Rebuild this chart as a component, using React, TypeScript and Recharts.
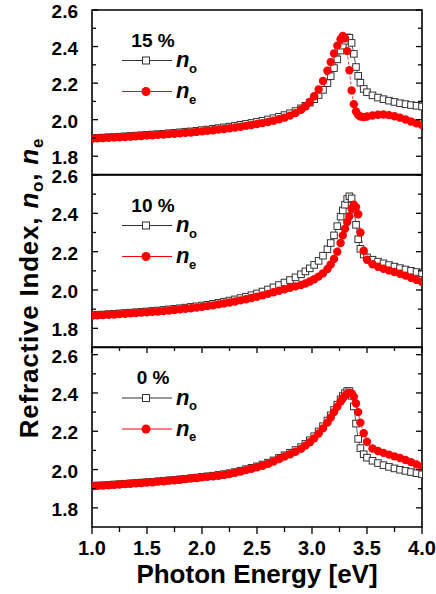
import { LineChart, Line, XAxis, YAxis, ReferenceArea } from "recharts";

// photon energy [eV], shared by all three samples
const energy = [
  1.0, 1.05, 1.1, 1.15, 1.2, 1.25, 1.3, 1.35, 1.4, 1.45, 1.5, 1.55, 1.6, 1.65, 1.7, 1.75, 1.8, 1.85, 1.9, 1.95,
  2.0, 2.05, 2.1, 2.15, 2.2, 2.25, 2.3, 2.35, 2.4, 2.45, 2.5, 2.55, 2.6, 2.65, 2.7, 2.75, 2.8, 2.85, 2.9,
  2.94, 2.98, 3.02, 3.06, 3.1, 3.14, 3.17, 3.2, 3.23, 3.26, 3.28, 3.3, 3.32, 3.34, 3.36, 3.38, 3.4, 3.42, 3.44,
  3.47, 3.5, 3.55, 3.6, 3.65, 3.7, 3.75, 3.8, 3.85, 3.9, 3.95, 4.0,
];

// 15 %
const no15 = [
  1.899, 1.901, 1.902, 1.904, 1.905, 1.907, 1.909, 1.911, 1.913, 1.915, 1.917, 1.919, 1.921, 1.923, 1.926, 1.928, 1.931, 1.934, 1.936, 1.939,
  1.943, 1.946, 1.95, 1.954, 1.958, 1.962, 1.967, 1.972, 1.977, 1.982, 1.988, 1.994, 2.001, 2.008, 2.016, 2.025, 2.035, 2.047, 2.062,
  2.076, 2.093, 2.112, 2.135, 2.163, 2.2, 2.238, 2.282, 2.33, 2.378, 2.405, 2.432, 2.45, 2.448, 2.42, 2.36, 2.288, 2.24, 2.202,
  2.168, 2.15, 2.133, 2.121, 2.112, 2.104, 2.097, 2.09, 2.085, 2.08, 2.076, 2.072,
];
const ne15 = [
  1.896, 1.898, 1.899, 1.901, 1.902, 1.904, 1.905, 1.907, 1.909, 1.911, 1.913, 1.915, 1.917, 1.919, 1.921, 1.923, 1.925, 1.928, 1.93, 1.933,
  1.936, 1.939, 1.942, 1.946, 1.949, 1.953, 1.957, 1.961, 1.966, 1.971, 1.976, 1.981, 1.987, 1.994, 2.002, 2.011, 2.022, 2.036, 2.054,
  2.072, 2.097, 2.128, 2.165, 2.212, 2.268, 2.315, 2.362, 2.405, 2.44, 2.458, 2.445, 2.375, 2.27, 2.16, 2.085, 2.045, 2.025, 2.017,
  2.014, 2.017, 2.023, 2.027, 2.028, 2.025, 2.019, 2.011, 2.001, 1.99, 1.98, 1.97,
];

// 10 %
const no10 = [
  1.869, 1.871, 1.872, 1.874, 1.876, 1.878, 1.88, 1.882, 1.884, 1.886, 1.888, 1.891, 1.893, 1.896, 1.899, 1.902, 1.905, 1.908, 1.912, 1.915,
  1.919, 1.923, 1.928, 1.933, 1.939, 1.945, 1.951, 1.958, 1.965, 1.973, 1.982, 1.992, 2.003, 2.014, 2.026, 2.039, 2.052, 2.066, 2.082,
  2.097, 2.113, 2.131, 2.152, 2.179, 2.213, 2.245, 2.285, 2.333, 2.383, 2.415, 2.445, 2.475, 2.489, 2.478, 2.42, 2.34, 2.265, 2.215,
  2.185, 2.17, 2.158, 2.148, 2.139, 2.13, 2.122, 2.114, 2.107, 2.1, 2.094, 2.088,
];
const ne10 = [
  1.866, 1.868, 1.869, 1.871, 1.872, 1.874, 1.876, 1.878, 1.88, 1.882, 1.884, 1.886, 1.888, 1.89, 1.893, 1.896, 1.899, 1.902, 1.905, 1.908,
  1.912, 1.916, 1.92, 1.925, 1.93, 1.935, 1.94, 1.946, 1.952, 1.958, 1.965, 1.972, 1.98, 1.988, 1.996, 2.004, 2.012, 2.019, 2.026,
  2.034, 2.044, 2.056, 2.07, 2.087, 2.11, 2.133, 2.162, 2.2, 2.245, 2.285, 2.32, 2.355, 2.385, 2.425, 2.445, 2.432, 2.395, 2.3,
  2.205, 2.158, 2.134, 2.121, 2.111, 2.102, 2.094, 2.085, 2.075, 2.064, 2.053, 2.042,
];

// 0 %
const no0 = [
  1.915, 1.917, 1.918, 1.92, 1.922, 1.924, 1.926, 1.928, 1.93, 1.932, 1.934, 1.936, 1.939, 1.941, 1.944, 1.946, 1.949, 1.952, 1.955, 1.958,
  1.962, 1.965, 1.968, 1.972, 1.976, 1.981, 1.987, 1.994, 2.002, 2.009, 2.017, 2.026, 2.036, 2.048, 2.061, 2.075, 2.088, 2.102, 2.117,
  2.134, 2.153, 2.174, 2.199, 2.226, 2.256, 2.283, 2.311, 2.339, 2.366, 2.384, 2.399, 2.41, 2.41, 2.385, 2.33, 2.24, 2.16, 2.112,
  2.08, 2.062, 2.046, 2.034, 2.023, 2.014, 2.006, 1.999, 1.993, 1.987, 1.981, 1.975,
];
const ne0 = [
  1.913, 1.915, 1.916, 1.918, 1.92, 1.922, 1.924, 1.926, 1.928, 1.93, 1.932, 1.934, 1.937, 1.939, 1.942, 1.944, 1.947, 1.95, 1.953, 1.956,
  1.959, 1.962, 1.965, 1.968, 1.972, 1.977, 1.983, 1.99, 1.997, 2.004, 2.012, 2.02, 2.03, 2.042, 2.055, 2.068, 2.08, 2.093, 2.108,
  2.125, 2.143, 2.163, 2.188, 2.215, 2.245, 2.272, 2.3, 2.328, 2.355, 2.372, 2.386, 2.396, 2.401, 2.398, 2.38, 2.345, 2.3, 2.245,
  2.19, 2.145, 2.11, 2.097, 2.087, 2.078, 2.069, 2.06, 2.05, 2.039, 2.027, 2.015,
];

const xTicks = [1, 1.25, 1.5, 1.75, 2, 2.25, 2.5, 2.75, 3, 3.25, 3.5, 3.75, 4];
const yTicks = [1.8, 1.9, 2.0, 2.1, 2.2, 2.3, 2.4, 2.5, 2.6];

const FONT = '"Liberation Sans", Arial, Helvetica, sans-serif';
const RED = "#ff0000";
const PLOT_L = 92;
const PLOT_R = 422;
const PAD = 12;

const panels = [
  { label: "15 %", no: no15, ne: ne15, top: 9.5, plotH: 164.5, yMax: 2.6, bottom: false },
  { label: "10 %", no: no10, ne: ne10, top: 174.5, plotH: 172.5, yMax: 2.6, bottom: false },
  { label: "0 %", no: no0, ne: ne0, top: 347, plotH: 180, yMax: 2.64, bottom: true },
];

function XTick(props: any) {
  const { x, payload, plotH, showBottom } = props;
  const v = payload.value;
  const major = Math.round(v * 4) % 2 === 0;
  const len = major ? 6 : 4;
  const yb = PAD + plotH;
  return (
    <g>
      <line x1={x} x2={x} y1={PAD} y2={PAD + len} stroke="#000" strokeWidth={1.3} />
      {showBottom && <line x1={x} x2={x} y1={yb} y2={yb + len + 1} stroke="#000" strokeWidth={1.3} />}
      {showBottom && major && (
        <text x={x} y={yb + 28} textAnchor="middle" fontFamily={FONT} fontWeight="bold" fontSize={20} fill="#000">
          {v.toFixed(1)}
        </text>
      )}
    </g>
  );
}

function YTick(props: any) {
  const { y, payload } = props;
  const v = payload.value;
  const major = Math.round(v * 10) % 2 === 0;
  const len = major ? 6 : 4;
  return (
    <g>
      <line x1={PLOT_L} x2={PLOT_L + len} y1={y} y2={y} stroke="#000" strokeWidth={1.3} />
      <line x1={PLOT_R - len} x2={PLOT_R} y1={y} y2={y} stroke="#000" strokeWidth={1.3} />
      {major && (
        <text x={PLOT_L - 14} y={y + 8} textAnchor="end" fontFamily={FONT} fontWeight="bold" fontSize={19} fill="#000">
          {v.toFixed(1)}
        </text>
      )}
    </g>
  );
}

function AxisTitle(props: any) {
  const vb = props.viewBox || {};
  return (
    <text x={vb.x + vb.width / 2} y={vb.y + 56} textAnchor="middle" fontFamily={FONT} fontWeight="bold" fontSize={26} fill="#000">
      Photon Energy [eV]
    </text>
  );
}

const squareDot = (p: any) => (
  <rect key={`s${p.index}`} x={p.cx - 3.3} y={p.cy - 3.3} width={6.6} height={6.6} fill="#fff" stroke="#333" strokeWidth={1} />
);
const circleDot = (p: any) => <circle key={`c${p.index}`} cx={p.cx} cy={p.cy} r={4.2} fill={RED} stroke="none" />;

function Panel({ cfg }: { cfg: (typeof panels)[number] }) {
  const rows = energy.map((e, i) => ({ e, no: cfg.no[i], ne: cfg.ne[i] }));
  const axisH = cfg.bottom ? 66 : 0;
  const h = PAD + cfg.plotH + axisH + (cfg.bottom ? 0 : PAD);
  return (
    <div style={{ position: "absolute", left: 0, top: cfg.top - PAD, width: 436, height: h }}>
      <LineChart width={436} height={h} data={rows} margin={{ top: PAD, right: 436 - PLOT_R, bottom: cfg.bottom ? 0 : PAD, left: 0 }}>
        <XAxis
          type="number"
          dataKey="e"
          domain={[1, 4]}
          ticks={xTicks}
          interval={0}
          height={axisH}
          axisLine={false}
          tickLine={false}
          allowDataOverflow
          tick={(p: any) => <XTick {...p} plotH={cfg.plotH} showBottom={cfg.bottom} />}
          label={cfg.bottom ? <AxisTitle /> : undefined}
        />
        <YAxis
          type="number"
          domain={[1.7, cfg.yMax]}
          ticks={yTicks}
          interval={0}
          width={PLOT_L}
          axisLine={false}
          tickLine={false}
          allowDataOverflow
          tick={(p: any) => <YTick {...p} />}
        />
        <Line dataKey="no" stroke="#333" strokeWidth={0.8} dot={squareDot} activeDot={false} isAnimationActive={false} />
        <Line dataKey="ne" stroke={RED} strokeWidth={0.8} strokeDasharray="3 2" dot={circleDot} activeDot={false} isAnimationActive={false} />
        <ReferenceArea x1={1} x2={4} y1={1.7} y2={cfg.yMax} fill="none" stroke="#000" strokeWidth={1.6} ifOverflow="visible" />
      </LineChart>
    </div>
  );
}

function Legend({ label, top }: { label: string; top: number }) {
  const r1 = top + 51;
  const r2 = top + 82;
  return (
    <g fontFamily={FONT} fontWeight="bold">
      <text x={153} y={top + 37} textAnchor="middle" fontSize={19}>{label}</text>
      <line x1={122} x2={172} y1={r1} y2={r1} stroke="#333" strokeWidth={1} />
      <rect x={142.5} y={r1 - 3.5} width={7} height={7} fill="#fff" stroke="#333" strokeWidth={1} />
      <text x={176} y={r1 + 6.5} fontSize={22} fontStyle="italic">n</text>
      <text x={189} y={r1 + 12} fontSize={13}>o</text>
      <line x1={122} x2={172} y1={r2} y2={r2} stroke={RED} strokeWidth={1} />
      <circle cx={146} cy={r2} r={4.5} fill={RED} />
      <text x={176} y={r2 + 6.5} fontSize={22} fontStyle="italic">n</text>
      <text x={189} y={r2 + 12} fontSize={13}>e</text>
    </g>
  );
}

export default function App() {
  return (
    <div style={{ position: "absolute", left: 0, top: 0, width: 436, height: 594, overflow: "hidden", background: "#fff" }}>
      {panels.map((cfg) => (
        <Panel key={cfg.label} cfg={cfg} />
      ))}
      <svg width={436} height={594} style={{ position: "absolute", left: 0, top: 0, pointerEvents: "none" }}>
        {panels.map((cfg) => (
          <Legend key={cfg.label} label={cfg.label} top={cfg.top} />
        ))}
        <text
          transform="rotate(-90)"
          x={-288}
          y={38}
          textAnchor="middle"
          fontFamily={FONT}
          fontWeight="bold"
          fontSize={26}
          letterSpacing={0.8}
        >
          Refractive Index, <tspan fontStyle="italic">n</tspan>
          <tspan fontSize={17} dy={5}>o</tspan>
          <tspan dy={-5}>, </tspan>
          <tspan fontStyle="italic">n</tspan>
          <tspan fontSize={17} dy={5}>e</tspan>
        </text>
      </svg>
    </div>
  );
}
